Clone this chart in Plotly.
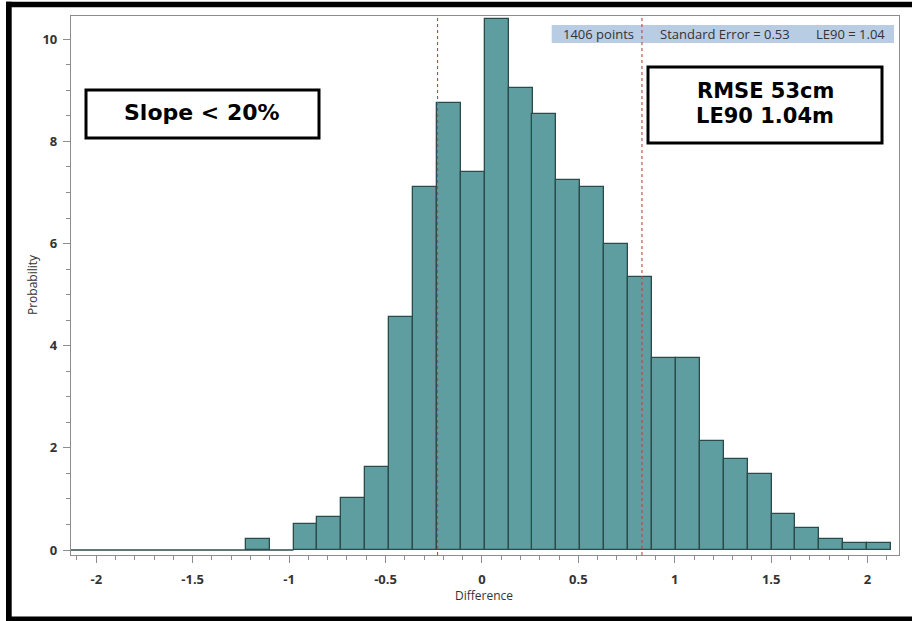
import plotly.graph_objects as go

# ---- data ----
bin_centers = [-1.163, -0.915, -0.791, -0.667, -0.543, -0.419, -0.295, -0.171, -0.047,
               0.077, 0.201, 0.324, 0.448, 0.572, 0.696, 0.820, 0.944, 1.068, 1.192,
               1.316, 1.440, 1.564, 1.688, 1.811, 1.935, 2.059]
probability = [0.21, 0.50, 0.64, 1.01, 1.62, 4.56, 7.10, 8.76, 7.41,
               10.39, 9.04, 8.53, 7.24, 7.10, 6.00, 5.35, 3.76, 3.76, 2.13,
               1.78, 1.49, 0.71, 0.43, 0.21, 0.13, 0.13]
bin_width = 0.124
hist_left_edge = -0.977
ref_lines = [-0.23, 0.83]

x_tick_vals = [-2, -1.5, -1, -0.5, 0, 0.5, 1, 1.5, 2]
x_tick_text = ["-2", "-1.5", "-1", "-0.5", "0", "0.5", "1", "1.5", "2"]
y_tick_vals = [0, 2, 4, 6, 8, 10]
y_tick_text = ["0", "2", "4", "6", "8", "10"]

stats_texts = ["1406 points", "Standard Error = 0.53", "LE90 = 1.04"]
box1_text = "Slope < 20%"
box2_lines = ["RMSE 53cm", "LE90 1.04m"]

X_RANGE = [-2.131, 2.163]
Y_RANGE = [-0.098, 10.456]

# ---- pixel helpers for overlay placement ----
W, H = 912, 621
L, R, T, B = 71, 13, 16, 66
PW, PH = W - L - R, H - T - B


def px(xpix):
    return (xpix - L) / PW


def py(ypix):
    return (H - B - ypix) / PH


fig = go.Figure()
fig.add_trace(go.Bar(
    x=bin_centers, y=probability, width=bin_width,
    marker=dict(color="#5F9EA0", line=dict(color="#2B4A4A", width=1.3)),
    hoverinfo="x+y", showlegend=False,
))

shapes = []
# zero baseline of the empty bins on the left
shapes.append(dict(type="line", xref="x", yref="y", x0=X_RANGE[0], x1=hist_left_edge,
                   y0=0, y1=0, line=dict(color="#2B4A4A", width=1.3), layer="below"))
# reference dashed lines
for v in ref_lines:
    shapes.append(dict(type="line", xref="x", yref="paper", x0=v, x1=v, y0=0, y1=1,
                       line=dict(color="#C8413C", width=1.1, dash="dot")))
# stats band
shapes.append(dict(type="rect", xref="paper", yref="paper",
                   x0=px(551.7), x1=px(894), y0=py(43), y1=py(25),
                   fillcolor="#B8CCE4", line=dict(width=0), layer="below"))
# text boxes
shapes.append(dict(type="rect", xref="paper", yref="paper",
                   x0=px(86), x1=px(319), y0=py(138), y1=py(90),
                   fillcolor="white", line=dict(color="black", width=3)))
shapes.append(dict(type="rect", xref="paper", yref="paper",
                   x0=px(648), x1=px(882), y0=py(143), y1=py(67),
                   fillcolor="white", line=dict(color="black", width=3)))
# outer black frame
shapes.append(dict(type="rect", xref="paper", yref="paper",
                   x0=px(6), x1=px(912), y0=py(7.3), y1=py(1.7),
                   fillcolor="black", line=dict(width=0)))
shapes.append(dict(type="rect", xref="paper", yref="paper",
                   x0=px(6), x1=px(11.7), y0=py(621), y1=py(1.7),
                   fillcolor="black", line=dict(width=0)))
shapes.append(dict(type="rect", xref="paper", yref="paper",
                   x0=px(6), x1=px(912), y0=py(621), y1=py(616.5),
                   fillcolor="black", line=dict(width=0)))

annotations = []
stat_x = [598, 724.5, 850.7]
for t, xc in zip(stats_texts, stat_x):
    annotations.append(dict(text=t, xref="paper", yref="paper", x=px(xc), y=py(34.5),
                            xanchor="center", yanchor="middle", showarrow=False,
                            font=dict(family="Open Sans", size=13, color="#333")))
annotations.append(dict(text=box1_text, xref="paper", yref="paper", x=px(202), y=py(112),
                        xanchor="center", yanchor="middle", showarrow=False,
                        font=dict(family="DejaVu Sans", size=22, color="black", weight="bold")))
for t, yc in zip(box2_lines, [91, 115.5]):
    annotations.append(dict(text=t, xref="paper", yref="paper", x=px(765), y=py(yc),
                            xanchor="center", yanchor="middle", showarrow=False,
                            font=dict(family="DejaVu Sans", size=21, color="black", weight="bold")))
annotations.append(dict(text="Probability", xref="paper", yref="paper", x=px(32), y=py(285),
                        textangle=-90, xanchor="center", yanchor="middle", showarrow=False,
                        font=dict(family="Open Sans", size=12, color="#333")))
annotations.append(dict(text="Difference", xref="paper", yref="paper", x=px(484), y=py(595),
                        xanchor="center", yanchor="middle", showarrow=False,
                        font=dict(family="Open Sans", size=12, color="#333")))

axis_common = dict(showline=True, linecolor="#8C8C8C", linewidth=1.2, mirror=True,
                   showgrid=False, zeroline=False, ticks="outside", ticklen=7,
                   tickcolor="#8C8C8C", tickwidth=1.2,
                   tickfont=dict(family="Open Sans", size=13, color="#333", weight="bold"))

fig.update_layout(
    width=W, height=H,
    margin=dict(l=L, r=R, t=T, b=B),
    paper_bgcolor="white", plot_bgcolor="white",
    bargap=0,
    shapes=shapes, annotations=annotations,
    xaxis=dict(range=X_RANGE, tickmode="array", tickvals=x_tick_vals, ticktext=x_tick_text,
               minor=dict(tickmode="linear", tick0=0, dtick=0.1, ticks="outside", ticklen=4,
                          tickcolor="#8C8C8C", tickwidth=1.2),
               ticklabelstandoff=5, **axis_common),
    yaxis=dict(range=Y_RANGE, tickmode="array", tickvals=y_tick_vals, ticktext=y_tick_text,
               minor=dict(tickmode="linear", tick0=0, dtick=0.5, ticks="outside", ticklen=4,
                          tickcolor="#8C8C8C", tickwidth=1.2),
               ticklabelstandoff=3, **axis_common),
)

fig.write_html(
    "out.html",
    config={"displayModeBar": False},
    post_script="document.body.style.margin='0';document.body.style.overflow='hidden';",
)
